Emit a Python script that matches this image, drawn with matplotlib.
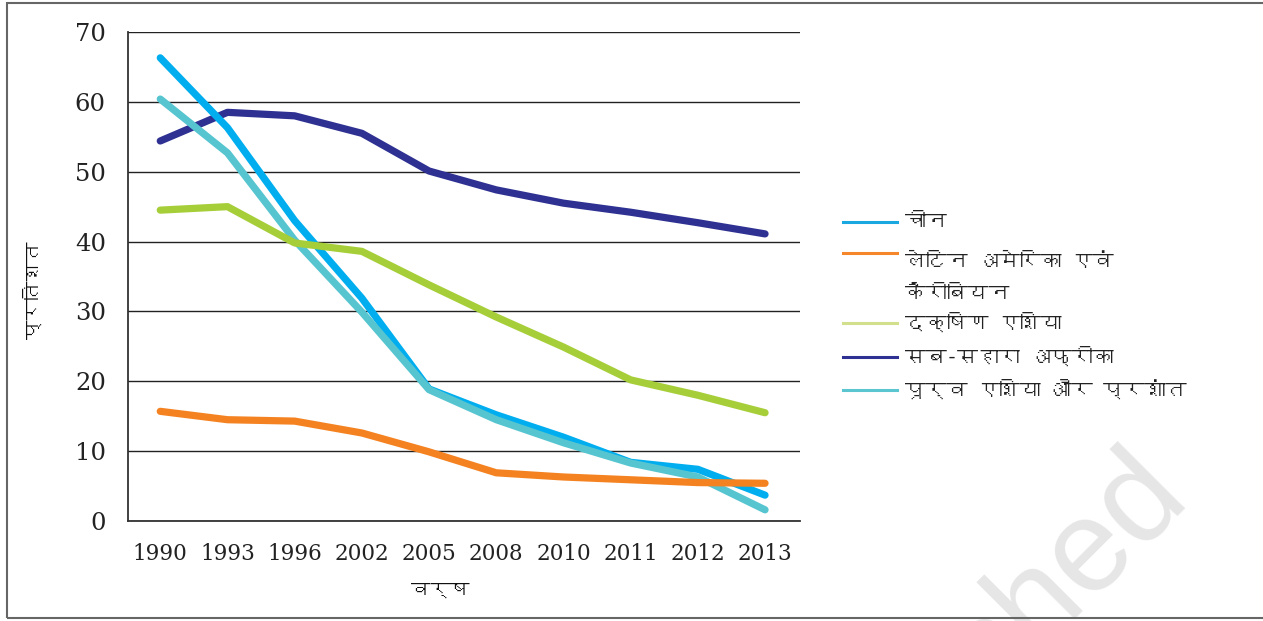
import numpy as np
import matplotlib
matplotlib.use('Agg')
import matplotlib.pyplot as plt
from matplotlib import font_manager
from matplotlib.ft2font import FT2Font
from matplotlib.lines import Line2D
from matplotlib.patches import Rectangle

# data (percent)
years = ['1990', '1993', '1996', '2002', '2005', '2008', '2010', '2011', '2012', '2013']
china = [66.3, 56.3, 43.0, 31.9, 18.9, 15.2, 12.0, 8.4, 7.4, 3.7]
latin_america = [15.7, 14.5, 14.3, 12.6, 9.9, 6.9, 6.3, 5.9, 5.5, 5.4]
south_asia = [44.5, 45.0, 39.8, 38.6, 33.8, 29.2, 24.9, 20.2, 18.0, 15.5]
sub_saharan = [54.4, 58.5, 58.0, 55.5, 50.1, 47.4, 45.5, 44.2, 42.7, 41.1]
east_asia = [60.4, 52.7, 40.2, 29.9, 18.8, 14.5, 11.2, 8.3, 6.3, 1.6]

labels = ['चीन', 'लेटिन अमेरिका एवं\nकैरीबियन', 'दक्षिण एशिया',
          'सब-सहारा अफ्रीका', 'पूर्व एशिया और प्रशांत']
line_colors = ['#00AEEF', '#F58220', '#A6CE39', '#2E3192', '#56C5D0']
legend_colors = ['#1BA8E0', '#F5862A', '#D2E08E', '#2E3192', '#5BC6D0']


def find_devanagari_font():
    for f in font_manager.fontManager.ttflist:
        try:
            cmap = FT2Font(f.fname).get_charmap()
        except Exception:
            continue
        if 0x091A in cmap:
            return f.name
    return None


deva = find_devanagari_font()
hindi_family = [deva, 'DejaVu Sans'] if deva else ['DejaVu Sans']

W, H = 1263, 621
fig = plt.figure(figsize=(W / 100, H / 100), dpi=100)
ax = fig.add_axes([128 / W, 1 - 521 / H, (800 - 128) / W, (521 - 32) / H])

x = np.arange(len(years))
series = [china, latin_america, south_asia, sub_saharan, east_asia]
draw_order = [3, 0, 4, 2, 1]
for i in draw_order:
    ax.plot(x, series[i], color=line_colors[i], lw=5.2,
            solid_capstyle='round', solid_joinstyle='round', zorder=3 + draw_order.index(i))

ax.set_xlim(-0.48, 9.52)
ax.set_ylim(0, 70)
ax.set_yticks(np.arange(0, 71, 10))
ax.set_xticks(x)
ax.set_xticklabels(years)
ax.yaxis.grid(True, color='#222222', lw=1.0)
ax.set_axisbelow(True)
for side in ['top', 'right']:
    ax.spines[side].set_visible(False)
for side in ['left', 'bottom']:
    ax.spines[side].set_color('#333333')
    ax.spines[side].set_linewidth(1.3)
ax.tick_params(axis='both', length=0)
ax.tick_params(axis='y', pad=16)
ax.tick_params(axis='x', pad=16)
for lab in ax.get_yticklabels():
    lab.set_fontfamily('DejaVu Serif')
    lab.set_fontsize(17.5)
    lab.set_color('#222222')
for lab in ax.get_xticklabels():
    lab.set_fontfamily('DejaVu Serif')
    lab.set_fontsize(15.5)
    lab.set_color('#222222')

fig.text(32 / W, 1 - 290 / H, 'प्रतिशत', rotation=90, ha='center', va='center',
         fontsize=14, fontweight='bold', family=hindi_family, color='#111111')
fig.text(440 / W, 1 - 590 / H, 'वर्ष', ha='center', va='center',
         fontsize=14, fontweight='bold', family=hindi_family, color='#111111')

# legend drawn by hand to keep the wrapped label layout
legend_y = [222, 253, 323, 357, 390]
for lab, col, ly in zip(labels, legend_colors, legend_y):
    fig.add_artist(Line2D([843 / W, 897 / W], [1 - ly / H, 1 - ly / H],
                          color=col, lw=2.2, transform=fig.transFigure))
    fig.text(905 / W, 1 - ly / H, lab, ha='left', va='top' if '\n' in lab else 'center',
             fontsize=15, family=hindi_family, color='#222222', linespacing=1.9)

# outer frame
fig.add_artist(Rectangle((7 / W, 3 / H), 1.0, 1 - 6 / H, fill=False,
                         ec='#666666', lw=1.5, transform=fig.transFigure))

# faint watermark
fig.text(1190 / W, 1 - 496 / H, 'published', rotation=45, ha='right', va='baseline',
         rotation_mode='anchor', fontsize=94, family='Liberation Sans',
         color='#e6e6e6', zorder=0)

fig.savefig('out.png', dpi=100)
